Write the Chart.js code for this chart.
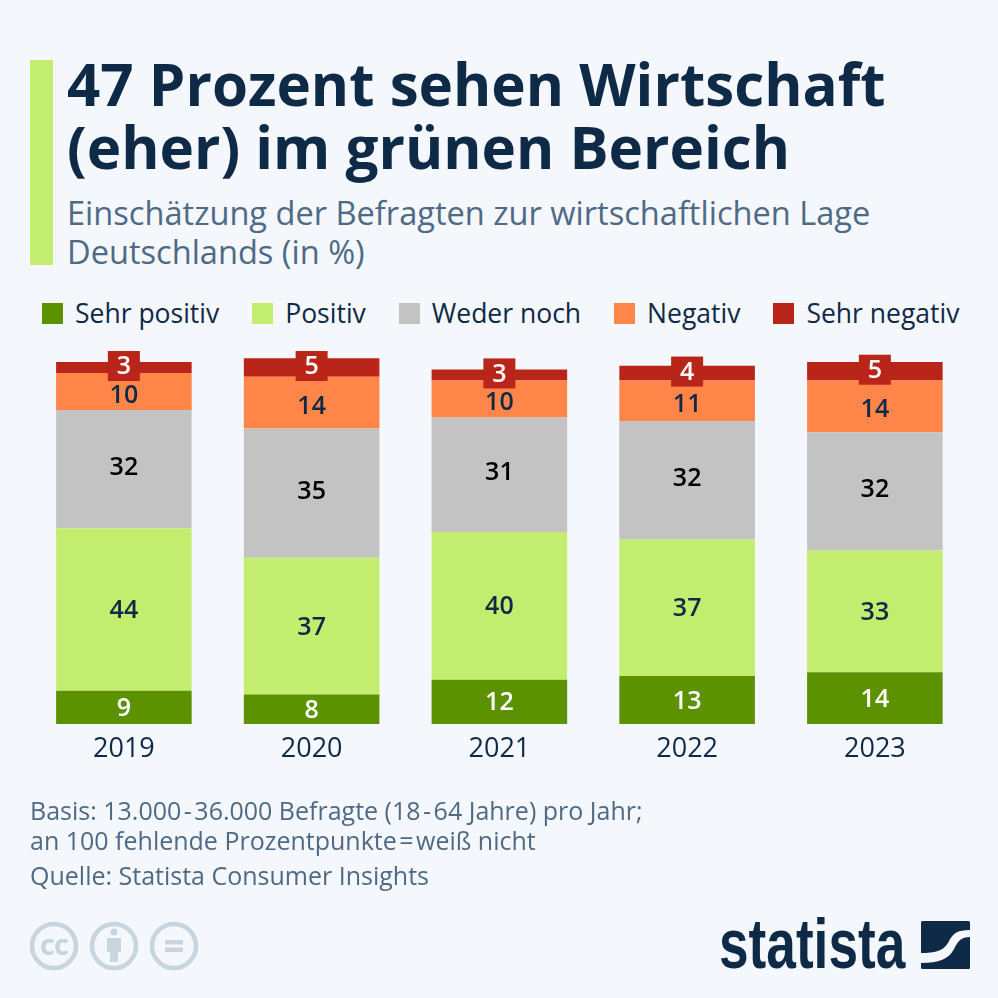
<!DOCTYPE html>
<html lang="de">
<head>
<meta charset="utf-8">
<title>Statista Chart</title>
<script src="https://cdn.jsdelivr.net/npm/chart.js@4"></script>
<style>
html, body { margin: 0; padding: 0; background: #f4f7fb; }
body { width: 998px; height: 998px; position: relative; overflow: hidden; font-family: "Open Sans", sans-serif; color: #0f2a46; }
#chart { position: absolute; left: 0; top: 0; }
.bar { position: absolute; left: 30px; top: 60px; width: 23px; height: 205px; background: #c3ed6f; }
h1 { position: absolute; left: 67px; top: 52px; margin: 0; font-size: 58.3px; line-height: 63px; font-weight: 700; white-space: nowrap; }
h2 { position: absolute; left: 67px; top: 193px; margin: 0; font-size: 32.6px; line-height: 39px; font-weight: 400; color: #4f6a85; white-space: nowrap; }
#legend { position: absolute; left: 42px; top: 296px; display: flex; gap: 33px; font-size: 26.5px; line-height: 34px; white-space: nowrap; }
#legend div { display: flex; align-items: center; }
#legend i { width: 21px; height: 21px; margin-right: 12px; }
.foot { position: absolute; left: 30px; font-size: 25px; line-height: 30px; color: #4f6a85; white-space: nowrap; }
#logo { position: absolute; left: 719px; top: 905px; font-family: "Liberation Sans", sans-serif; font-weight: 700; font-size: 70px; line-height: 78px; color: #0f2a46; transform: scaleX(0.76); transform-origin: left top; }
svg { position: absolute; }
</style>
</head>
<body>
<div class="bar"></div>
<h1>47 Prozent sehen Wirtschaft<br>(eher) im grünen Bereich</h1>
<h2>Einschätzung der Befragten zur wirtschaftlichen Lage<br>Deutschlands (in %)</h2>
<div id="legend"></div>
<canvas id="chart" width="998" height="998"></canvas>
<div class="foot" style="top:795px">Basis: 13.000&#8202;-&#8202;36.000 Befragte (18&#8202;-&#8202;64 Jahre) pro Jahr;<br>an 100 fehlende Prozentpunkte&#8202;=&#8202;weiß nicht</div>
<div class="foot" style="top:860px">Quelle: Statista Consumer Insights</div>

<svg style="left:28px;top:921px" width="175" height="50">
  <g fill="none" stroke="#c8d5de" stroke-width="4.5">
    <circle cx="26" cy="25" r="22"/>
    <circle cx="86" cy="25" r="22"/>
    <circle cx="146" cy="25" r="22"/>
  </g>
  <text x="26" y="34" text-anchor="middle" font-family="Open Sans" font-weight="700" font-size="29" letter-spacing="-1" fill="#c8d5de">cc</text>
  <g fill="#c8d5de">
    <circle cx="86" cy="11" r="3.5"/>
    <rect x="79" y="17" width="14" height="14"/>
    <rect x="82" y="29" width="8" height="12"/>
    <rect x="137" y="19" width="18" height="4.5"/>
    <rect x="137" y="26.5" width="18" height="4.5"/>
  </g>
</svg>
<div id="logo">statista</div>
<svg style="left:921px;top:921px" width="49" height="48" viewBox="0 0 49 48">
  <rect width="49" height="48" rx="1.5" fill="#0f2a46"/>
  <path d="M49 9 C36 9 32 12 27 22 C22 30 14 32 0 32 V42 C18 42 28 38 33 28 C37 20 40 16 49 16 Z" fill="#f4f7fb"/>
</svg>

<script>
var years = ["2019", "2020", "2021", "2022", "2023"];
var seriesNames = ["Sehr positiv", "Positiv", "Weder noch", "Negativ", "Sehr negativ"];
var sehrPositiv = [9, 8, 12, 13, 14];
var positiv = [44, 37, 40, 37, 33];
var wederNoch = [32, 35, 31, 32, 32];
var negativ = [10, 14, 10, 11, 14];
var sehrNegativ = [3, 5, 3, 4, 5];

var seriesValues = [sehrPositiv, positiv, wederNoch, negativ, sehrNegativ];
var colors = ["#5c9200", "#c3ed6f", "#c3c3c3", "#ff8548", "#b92619"];
var labelColors = ["#ffffff", "#0f2a46", "#000000", "#0f2a46", "#ffffff"];
var labelNudge = [0.5, 0.5, -2.5, 3, -1.5];

// legend
var legend = document.getElementById("legend");
seriesNames.forEach(function(name, i){
    var item = document.createElement("div");
    var box = document.createElement("i");
    box.style.background = colors[i];
    item.appendChild(box);
    item.appendChild(document.createTextNode(name));
    legend.appendChild(item);
});

// numbers inside the bars, last series gets a small red box
var barLabels = {
    id: "barLabels",
    afterDatasetsDraw: function(chart){
        var ctx = chart.ctx;
        ctx.save();
        ctx.textAlign = "center";
        ctx.textBaseline = "middle";
        ctx.font = "600 25px 'Open Sans'";
        chart.data.datasets.forEach(function(ds, i){
            chart.getDatasetMeta(i).data.forEach(function(bar, j){
                var y = (bar.y + bar.base) / 2 + labelNudge[i];
                if (i === seriesValues.length - 1) {
                    ctx.fillStyle = colors[i];
                    ctx.fillRect(bar.x - 16, y - 15, 32, 30);
                }
                ctx.fillStyle = labelColors[i];
                ctx.fillText(ds.data[j], bar.x, y + 1);
            });
        });
        ctx.restore();
    }
};

var ctx = document.getElementById("chart");
var chart = new Chart(ctx, {
    type: "bar",
    plugins: [barLabels],
    data: {
        labels: years,
        datasets: seriesNames.map(function(name, i){
            return { label: name, data: seriesValues[i], backgroundColor: colors[i], borderWidth: 0 };
        })
    },
    options: {
        responsive: false,
        animation: false,
        barPercentage: 0.722,
        categoryPercentage: 1,
        layout: { padding: { left: 30, right: 29.25, top: 354.6, bottom: 224 } },
        plugins: { legend: { display: false }, tooltip: { enabled: false }, title: { display: false } },
        scales: {
            x: {
                stacked: true,
                grid: { display: false },
                border: { display: false },
                ticks: { color: "#0f2a46", font: { family: "Open Sans", size: 27 }, padding: 1 },
                afterFit: function(scale){ scale.height = 50; }
            },
            y: { stacked: true, display: false, min: 0, max: 100 }
        }
    }
});
</script>
</body>
</html>
